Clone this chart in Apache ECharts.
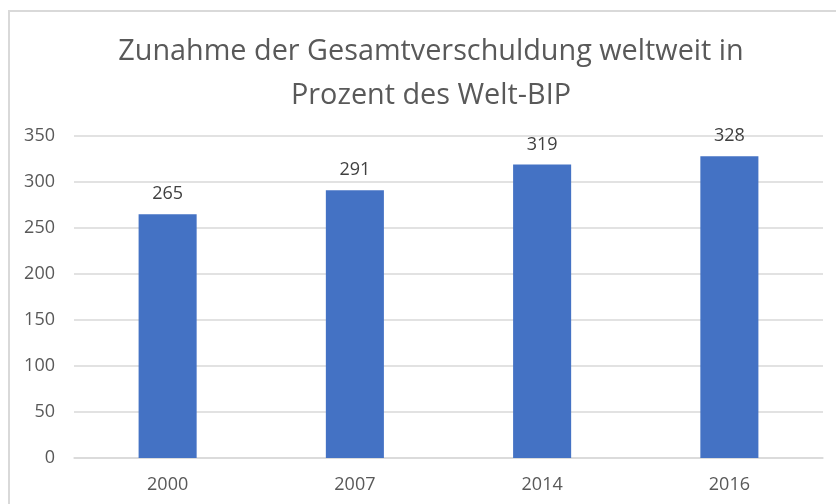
<!DOCTYPE html>
<html><head><meta charset="utf-8">
<script src="https://cdn.jsdelivr.net/npm/echarts@6/dist/echarts.min.js"></script>
<style>html,body{margin:0;padding:0;background:#fff}#c{width:836px;height:504px}
#frame{position:absolute;left:8px;top:10px;width:840px;height:510px;border:2px solid #d9d9d9;box-sizing:border-box;pointer-events:none}</style>
</head><body><div id="c"></div><div id="frame"></div>
<script>
const categories = ['2000', '2007', '2014', '2016'];
const values = [265, 291, 319, 328];
const titleLines = ['Zunahme der Gesamtverschuldung weltweit in', 'Prozent des Welt-BIP'];
const chart = echarts.init(document.getElementById('c'));
chart.setOption({
  animation: false,
  textStyle: { fontFamily: 'Open Sans' },
  title: {
    text: titleLines.join('\n'), left: 426, textAlign: 'center', top: 25,
    textStyle: { fontFamily: 'Open Sans', fontSize: 28.8, fontWeight: 'normal', color: '#595959', lineHeight: 44 }
  },
  grid: { left: 74, right: 13, top: 136, bottom: 46 },
  xAxis: {
    type: 'category', data: categories,
    axisLine: { lineStyle: { color: '#d9d9d9', width: 1.5 } }, axisTick: { show: false },
    axisLabel: { color: '#595959', fontSize: 18, margin: 18 }
  },
  yAxis: {
    type: 'value', min: 0, max: 350, interval: 50,
    axisLine: { show: false }, axisTick: { show: false },
    splitLine: { lineStyle: { color: '#d9d9d9', width: 1.5 } },
    axisLabel: { color: '#595959', fontSize: 18, margin: 19 }
  },
  series: [{
    type: 'bar', data: values, barWidth: '31%',
    itemStyle: { color: '#4472c4' },
    label: { show: true, position: 'top', distance: 11, color: '#404040', fontSize: 18 }
  }]
});
</script></body></html>
